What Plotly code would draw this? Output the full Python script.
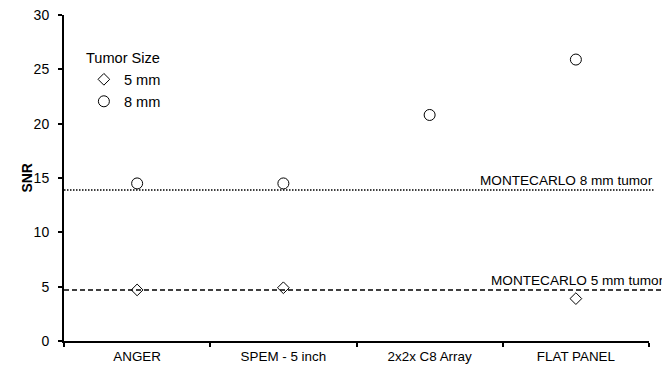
import plotly.graph_objects as go

categories = ["ANGER", "SPEM - 5 inch", "2x2x C8 Array", "FLAT PANEL"]
snr_5mm_x = ["ANGER", "SPEM - 5 inch", "FLAT PANEL"]
snr_5mm = [4.7, 4.9, 3.9]
snr_8mm = [14.5, 14.5, 20.8, 25.9]
montecarlo_8mm = 13.9
montecarlo_5mm = 4.7
y_ticks = [0, 5, 10, 15, 20, 25, 30]

FONT = "Liberation Sans, Arial, sans-serif"

fig = go.Figure()
fig.add_trace(go.Scatter(
    x=snr_5mm_x, y=snr_5mm, mode="markers", name="5 mm",
    marker=dict(symbol="diamond-open", size=9, color="black", line=dict(width=1)),
))
fig.add_trace(go.Scatter(
    x=categories, y=snr_8mm, mode="markers", name="8 mm",
    marker=dict(symbol="circle-open", size=11, color="black", line=dict(width=1)),
))

fig.add_shape(type="line", xref="paper", yref="y", x0=0, x1=1.0103,
              y0=montecarlo_8mm, y1=montecarlo_8mm,
              line=dict(color="black", width=1.5, dash="1.5px,1.5px"))
fig.add_shape(type="line", xref="paper", yref="y", x0=0, x1=1.03,
              y0=montecarlo_5mm, y1=montecarlo_5mm,
              line=dict(color="black", width=1.5, dash="5px,3px"))

fig.add_annotation(text="MONTECARLO 8 mm tumor", xref="paper", yref="y",
                   x=1.0103, y=montecarlo_8mm, xanchor="right", yanchor="bottom",
                   showarrow=False, font=dict(size=13.6, color="black", family=FONT))
fig.add_annotation(text="MONTECARLO 5 mm tumor", xref="paper", yref="y",
                   x=0.7265, y=montecarlo_5mm, xanchor="left", yanchor="bottom",
                   showarrow=False, font=dict(size=13.6, color="black", family=FONT))
fig.add_annotation(text="<b>SNR</b>", xref="paper", yref="paper",
                   x=-0.081, y=0.5, textangle=-90, showarrow=False,
                   font=dict(size=14, color="black", family=FONT))

fig.update_layout(
    width=662, height=366,
    margin=dict(l=64, r=13, t=15, b=25, autoexpand=False),
    plot_bgcolor="white", paper_bgcolor="white",
    font=dict(family=FONT, color="black", size=14),
    showlegend=True,
    legend=dict(
        title=dict(text="Tumor Size", font=dict(size=14.6)),
        x=0.034, y=0.91, xanchor="left", yanchor="top",
        bgcolor="rgba(0,0,0,0)", font=dict(size=14.6),
        itemwidth=30,
    ),
    xaxis=dict(
        type="category", categoryorder="array", categoryarray=categories,
        range=[-0.5, 3.5], tickson="boundaries",
        ticks="outside", ticklen=4, tickwidth=1.5, tickcolor="black",
        showline=True, linewidth=2, linecolor="black",
        showgrid=False, zeroline=False, automargin=False,
        tickfont=dict(size=13.4), ticklabelstandoff=2,
    ),
    yaxis=dict(
        range=[0, 30], tickvals=y_ticks,
        ticks="outside", ticklen=4, tickwidth=1.5, tickcolor="black",
        showline=True, linewidth=2, linecolor="black",
        showgrid=False, zeroline=False, automargin=False,
        tickfont=dict(size=14), ticklabelstandoff=6,
    ),
)

fig.write_html("out.html")
